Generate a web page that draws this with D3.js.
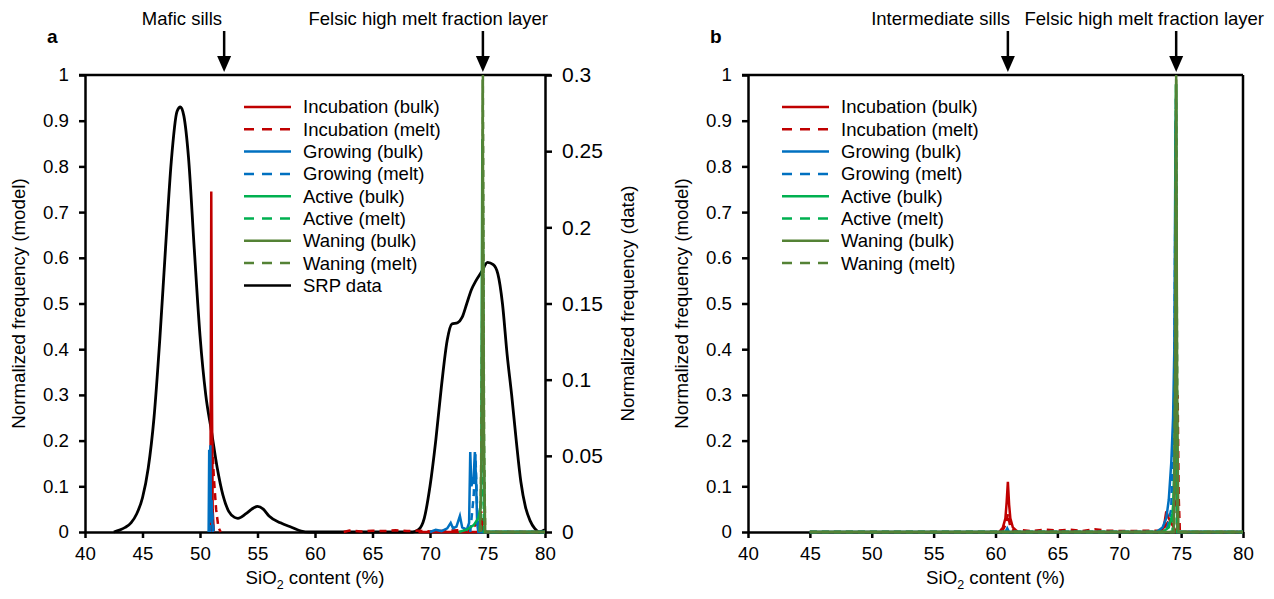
<!DOCTYPE html>
<meta charset="utf-8">
<title>SiO2 distributions</title>
<style>
  body { margin: 0; background: #fff; }
  svg { font-family: "Liberation Sans", Arial, sans-serif; }
  .axis text { font-size: 18.7px; fill: #000; }
  .axis path, .axis line { stroke: #000; stroke-width: 2.5; }
</style>
<body>
<script src="https://d3js.org/d3.v7.min.js"></script>
<script>
// ---- data (SiO2 wt%, normalized frequency) ----
const xTicks = [40, 45, 50, 55, 60, 65, 70, 75, 80];
const modelTicks = [0, 0.1, 0.2, 0.3, 0.4, 0.5, 0.6, 0.7, 0.8, 0.9, 1];
const dataTicks = [0, 0.05, 0.1, 0.15, 0.2, 0.25, 0.3];

const seriesNames = ["Incubation (bulk)", "Incubation (melt)", "Growing (bulk)", "Growing (melt)",
  "Active (bulk)", "Active (melt)", "Waning (bulk)", "Waning (melt)"];
const seriesColors = ["#c00000", "#c00000", "#0070c0", "#0070c0", "#00b050", "#00b050", "#548235", "#548235"];
const seriesDashed = [false, true, false, true, false, true, false, true];

// SRP data (right axis of panel a)
const srpSiO2 = [42.5, 43, 43.5, 44, 44.5, 45, 45.5, 46, 46.5, 47, 47.5, 48, 48.3, 48.6, 49, 49.5, 50, 50.5, 51, 51.5,
  52, 52.5, 53, 53.3, 54, 54.5, 55, 55.5, 56, 57, 58, 58.8, 59.5, 68.5, 69, 69.5, 70, 70.5, 71, 71.5, 71.9, 72.4,
  72.8, 73.2, 73.6, 74, 74.5, 75, 75.5, 75.9, 76.3, 76.7, 77.1, 77.5, 77.9, 78.3, 78.7, 79.1, 79.5, 80];
const srpFreq = [0, 0.0012, 0.003, 0.006, 0.012, 0.0225, 0.042, 0.075, 0.126, 0.186, 0.243, 0.276, 0.279, 0.273,
  0.246, 0.186, 0.129, 0.09, 0.066, 0.042, 0.024, 0.0135, 0.0096, 0.009, 0.012, 0.015, 0.0168, 0.015, 0.0105,
  0.006, 0.003, 0.0006, 0, 0, 0.0015, 0.009, 0.03, 0.06, 0.096, 0.126, 0.1365, 0.1374, 0.141, 0.15, 0.159, 0.165,
  0.171, 0.177, 0.1755, 0.1695, 0.15, 0.117, 0.09, 0.06, 0.033, 0.0165, 0.0075, 0.0024, 0, 0.0015];

// panel a model runs (null = gap)
const aIncBulk = [[50.9, 0], [50.98, 0.745], [51.04, 0.3], [51.1, 0.05], [51.2, 0], [51.3, null],
  [69, 0], [74.3, 0], [74.45, 0.03], [74.6, 0], [80, 0]];
const aIncMelt = [[50.95, 0], [51.05, 0.2], [51.2, 0.12], [51.4, 0.05], [51.6, 0.01], [51.8, 0], [52, null],
  [62.5, 0], [63, 0.003], [64, 0.001], [65, 0.003], [66, 0.002], [67, 0.004], [68, 0.002], [69, 0.003],
  [70, 0.001], [73.5, 0.005], [74.2, 0.02], [74.45, 0.045], [74.6, 0.02], [74.8, 0], [80, 0]];
const aGrowBulk = [[50.75, 0], [50.8, 0.18], [50.85, 0.02], [50.9, 0.19], [50.95, 0.05], [51.0, 0.07], [51.1, 0],
  [51.2, null], [70, 0], [70.5, 0.005], [71, 0.002], [71.5, 0.008], [71.8, 0.02], [72, 0.008], [72.3, 0.012],
  [72.6, 0.035], [72.8, 0.01], [73.2, 0.005], [73.4, 0.02], [73.5, 0.175], [73.6, 0.1], [73.8, 0.12],
  [73.9, 0.175], [74.0, 0.12], [74.1, 0.02], [74.2, 0], [80, 0]];
const aGrowMelt = [[50.85, 0], [50.9, 0.1], [51.0, 0.06], [51.1, 0.03], [51.2, 0], [51.3, null],
  [73.5, 0], [73.8, 0.08], [73.95, 0.17], [74.1, 0.05], [74.3, 0], [80, 0]];
const aActBulk = [[72.5, 0], [73.2, 0.005], [73.8, 0.015], [74.2, 0.03], [74.45, 0.06], [74.55, 0.86],
  [74.65, 0.3], [74.75, 0], [80, 0]];
const aActMelt = [[74.3, 0], [74.5, 0.1], [74.58, 0.86], [74.68, 0], [80, 0]];
const aWaneBulk = [[74.35, 0], [74.5, 0.2], [74.58, 0.99], [74.7, 0.15], [74.8, 0], [80, 0]];
const aWaneMelt = [[74.4, 0], [74.55, 0.5], [74.6, 1.0], [74.7, 0.2], [74.8, 0], [80, 0]];

// panel b model runs
const bIncBulk = [[45, 0], [60.3, 0], [60.6, 0.01], [60.8, 0.03], [60.9, 0.065], [61.0, 0.11], [61.1, 0.06],
  [61.2, 0.03], [61.4, 0.01], [61.8, 0], [73.3, 0], [73.6, 0.01], [73.8, 0.045], [74.0, 0.03], [74.2, 0.02],
  [74.4, 0.01], [74.6, 0], [80, 0]];
const bIncMelt = [[45, 0], [60.5, 0], [60.9, 0.02], [61.0, 0.04], [61.2, 0.01], [61.6, 0], [62, 0.004],
  [63, 0.002], [64, 0.005], [65, 0.003], [66, 0.005], [67, 0.002], [68, 0.006], [69, 0.003], [70, 0.002],
  [73.5, 0.003], [74.6, 0.05], [74.72, 0.3], [74.8, 0.08], [74.9, 0], [80, 0]];
const bGrowBulk = [[45, 0], [60.8, 0], [60.95, 0.008], [61.1, 0], [73.0, 0], [73.5, 0.01], [73.8, 0.03],
  [74.0, 0.07], [74.2, 0.15], [74.35, 0.25], [74.45, 0.4], [74.55, 0.9], [74.62, 0.3], [74.7, 0], [80, 0]];
const bGrowMelt = [[45, 0], [73.8, 0], [74.2, 0.05], [74.45, 0.3], [74.58, 0.95], [74.68, 0], [80, 0]];
const bActBulk = [[45, 0], [73.5, 0], [74.0, 0.01], [74.3, 0.04], [74.5, 0.1], [74.58, 0.98], [74.68, 0], [80, 0]];
const bActMelt = [[45, 0], [74.3, 0], [74.5, 0.2], [74.6, 0.98], [74.7, 0], [80, 0]];
const bWaneBulk = [[45, 0], [74.4, 0], [74.52, 0.3], [74.6, 1.0], [74.68, 0.3], [74.78, 0], [80, 0]];
const bWaneMelt = [[45, 0], [74.45, 0], [74.6, 0.99], [74.7, 0], [80, 0]];

const W = 1274, H = 599;
const svg = d3.select("body").append("svg").attr("width", W).attr("height", H);

function panel(opt) {
  const x = d3.scaleLinear().domain([40, 80]).range([opt.x0, opt.x1]);
  const y = d3.scaleLinear().domain([0, 1]).range([532, 75]);
  const g = svg.append("g");

  // frame (top + right)
  g.append("line").attr("x1", opt.x0 - 6).attr("x2", opt.x1 + (opt.right ? 6 : 0))
    .attr("y1", y(1)).attr("y2", y(1)).attr("stroke", "#000").attr("stroke-width", 2.5);
  if (!opt.right) {
    g.append("line").attr("x1", opt.x1).attr("x2", opt.x1).attr("y1", y(1)).attr("y2", y(0))
      .attr("stroke", "#000").attr("stroke-width", 2.5);
  }

  g.append("g").attr("class", "axis").attr("transform", `translate(${opt.x0},0)`)
    .call(d3.axisLeft(y).tickValues(modelTicks).tickSize(6).tickSizeOuter(0).tickPadding(10)
      .tickFormat(d3.format("~g")));
  g.append("g").attr("class", "axis").attr("transform", `translate(0,${y(0)})`)
    .call(d3.axisBottom(x).tickValues(xTicks).tickSize(6).tickSizeOuter(0).tickPadding(8))
    .selectAll("text").attr("dy", "0.75em");

  if (opt.right) {
    const y2 = d3.scaleLinear().domain([0, 0.3]).range([532, 75]);
    const ax = g.append("g").attr("class", "axis").attr("transform", `translate(${opt.x1},0)`)
      .call(d3.axisRight(y2).tickValues(dataTicks).tickSize(7).tickSizeOuter(0).tickPadding(10)
        .tickFormat(d3.format("~g")));
    ax.selectAll("text").style("font-size", "21px");
    const srp = d3.line().x((d, i) => x(srpSiO2[i])).y(d => y2(d)).curve(d3.curveMonotoneX);
    g.append("path").attr("d", srp(srpFreq)).attr("fill", "none").attr("stroke", "#000").attr("stroke-width", 2.8);
    g.append("text").attr("transform", `translate(${opt.x1 + 82},${y(0.5)}) rotate(-90)`)
      .attr("text-anchor", "middle").attr("dy", "0.35em").style("font-size", "18.7px")
      .text("Normalized frequency (data)");
  }

  const line = d3.line().defined(d => d[1] !== null).x(d => x(d[0])).y(d => y(d[1]));
  opt.series.forEach((s, i) => {
    g.append("path").attr("d", line(s)).attr("fill", "none")
      .attr("stroke", seriesColors[i]).attr("stroke-width", 2.5)
      .attr("stroke-dasharray", seriesDashed[i] ? "7,5" : null);
  });

  // legend
  const names = opt.right ? seriesNames.concat(["SRP data"]) : seriesNames;
  names.forEach((n, i) => {
    const ly = 107 + i * 22.3;
    g.append("line").attr("x1", opt.legX).attr("x2", opt.legX + 47).attr("y1", ly).attr("y2", ly)
      .attr("stroke", i < 8 ? seriesColors[i] : "#000").attr("stroke-width", 2.5)
      .attr("stroke-dasharray", i < 8 && seriesDashed[i] ? "10,8" : null);
    g.append("text").attr("x", opt.legX + 59).attr("y", ly).attr("dy", "0.35em")
      .style("font-size", "18.5px").text(n);
  });

  // axis titles
  const xt = g.append("text").attr("x", (opt.x0 + opt.x1) / 2).attr("y", 584)
    .attr("text-anchor", "middle").style("font-size", "18.7px");
  xt.append("tspan").text("SiO");
  xt.append("tspan").attr("dy", 5).style("font-size", "12.5px").text("2");
  xt.append("tspan").attr("dy", -5).text(" content (%)");
  g.append("text").attr("transform", `translate(${opt.x0 - 67},${y(0.5)}) rotate(-90)`)
    .attr("text-anchor", "middle").attr("dy", "0.35em").style("font-size", "18.7px")
    .text("Normalized frequency (model)");

  g.append("text").attr("x", opt.x0 - 38).attr("y", 43).style("font-size", "19px")
    .style("font-weight", "bold").text(opt.letter);

  // arrows
  opt.notes.forEach(nt => {
    const ax = x(nt.at);
    g.append("line").attr("x1", ax).attr("x2", ax).attr("y1", 31).attr("y2", 58)
      .attr("stroke", "#000").attr("stroke-width", 2.5);
    g.append("path").attr("d", `M${ax - 7},56L${ax + 7},56L${ax},72Z`).attr("fill", "#000");
    g.append("text").attr("x", nt.tx).attr("y", 25).attr("text-anchor", "end")
      .style("font-size", "18.5px").text(nt.label);
  });
}

panel({
  x0: 85, x1: 545, right: true, letter: "a", legX: 244,
  series: [aIncBulk, aIncMelt, aGrowBulk, aGrowMelt, aActBulk, aActMelt, aWaneBulk, aWaneMelt],
  notes: [{ at: 52.1, tx: 222, label: "Mafic sills" },
          { at: 74.6, tx: 548, label: "Felsic high melt fraction layer" }]
});
panel({
  x0: 748, x1: 1243, right: false, letter: "b", legX: 782,
  series: [bIncBulk, bIncMelt, bGrowBulk, bGrowMelt, bActBulk, bActMelt, bWaneBulk, bWaneMelt],
  notes: [{ at: 61.0, tx: 1010, label: "Intermediate sills" },
          { at: 74.6, tx: 1264, label: "Felsic high melt fraction layer" }]
});
</script>
</body>
